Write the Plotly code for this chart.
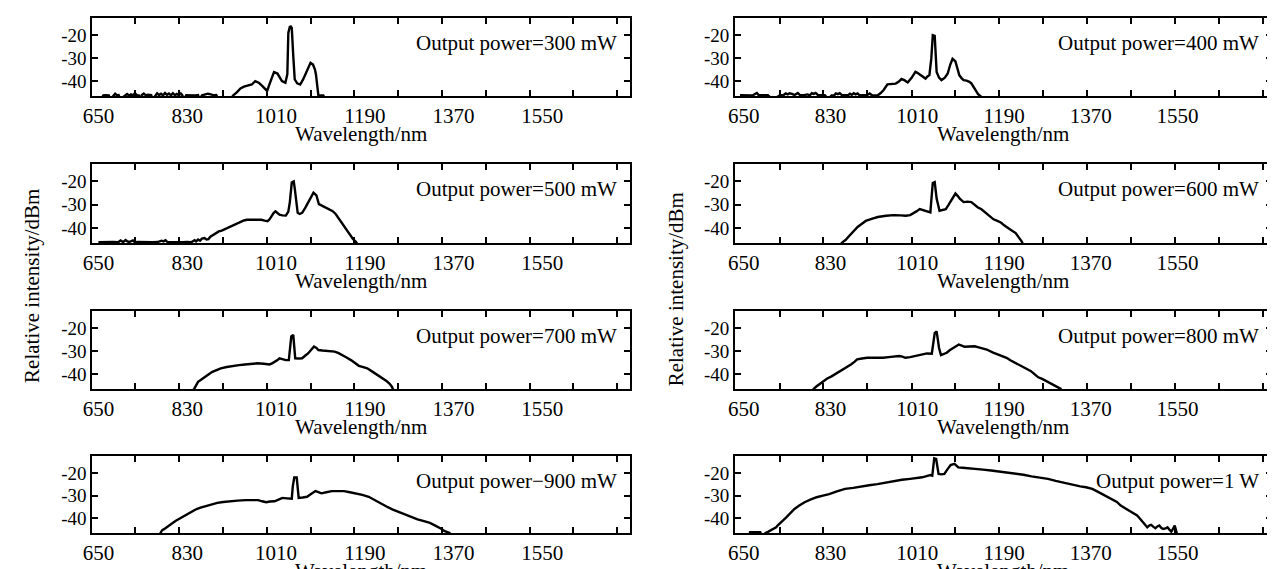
import plotly.graph_objects as go

# ---------------- data (wavelength in nm, relative intensity in dBm) ----------------
wl_300 = [655, 660, 664, 668, 671, 674, 681, 684, 688, 691, 694, 704, 708, 712, 716, 720, 724, 728, 732, 735,
          738, 742, 746, 750, 754, 757, 760, 765, 769, 773, 777, 781, 785, 789, 793, 797, 801, 805, 809, 813,
          817, 820, 823, 828, 834, 840, 846, 852, 855, 860, 866, 872, 878, 884, 889, 893,
          918, 923, 931, 938, 945, 953, 961, 968, 975, 983, 992, 998, 1006, 1013, 1018, 1022, 1029, 1033,
          1035, 1038, 1040, 1042, 1045, 1048, 1053, 1059, 1065, 1072, 1077, 1080, 1085, 1089, 1091, 1094,
          1096, 1106, 1110]
db_300 = [-48, -46.2, -46.1, -46.3, -46.2, -48, -46.3, -45.5, -46.2, -46.1, -48, -46.2, -45.6, -46.3, -45.8,
          -46.2, -45.3, -46.1, -46.2, -48, -46.1, -45.4, -46.2, -45.9, -46.2, -46.1, -48, -46.2, -45.3, -46.1,
          -45.5, -46.2, -45.2, -46.0, -45.4, -46.2, -45.3, -46.1, -45.6, -46.2, -45.4, -46.1, -48, -46.2,
          -46.3, -46.2, -46.3, -46.1, -48, -46.2, -45.7, -45.5, -45.8, -46.2, -46.1, -48,
          -48, -46.3, -44.8, -43.2, -42.4, -41.8, -41.5, -40.0, -40.7, -42.3, -44.3, -40.7, -36.1, -36.7,
          -38.5, -40.0, -40.7, -37.0, -19.0, -16.4, -16.2, -16.8, -29.0, -39.3, -41.0, -41.5, -39.3, -35.7,
          -33.0, -32.0, -32.8, -35.0, -37.1, -45.0, -46.3, -46.3, -48]

wl_400 = [642, 650, 660, 668, 673, 677, 681, 690, 700, 710, 725, 733, 737, 741, 745, 750, 755, 762, 767, 775,
          782, 787, 791, 795, 799, 804, 810, 818, 825, 832, 838, 841, 845, 849, 854, 860, 866, 870, 874, 878,
          882, 886, 890, 898, 905, 911, 916, 922, 928,
          934, 940, 948, 957, 965, 971, 977, 983, 990, 998, 1006, 1010, 1015, 1021, 1027, 1031, 1035, 1039,
          1042, 1046, 1048, 1050, 1055, 1060, 1067, 1073, 1078, 1083, 1089, 1093, 1097, 1102, 1106, 1112,
          1118, 1122, 1126, 1131, 1136, 1142, 1146]
db_400 = [-46.2, -46.3, -46.1, -46.3, -45.6, -45.2, -46.2, -46.3, -46.2, -48, -46.2, -46.0, -45.4, -45.8,
          -45.3, -45.6, -46.1, -45.2, -46.2, -46.1, -45.8, -46.2, -45.3, -45.6, -45.2, -46.1, -46.2, -46.1,
          -48, -46.2, -46.1, -45.4, -45.7, -45.3, -46.2, -46.1, -46.2, -45.5, -46.0, -45.3, -45.8, -45.4,
          -46.2, -46.1, -46.2, -45.4, -46.2, -46.3, -46.2,
          -45.2, -43.9, -41.4, -41.2, -41.1, -40.3, -39.1, -39.6, -40.6, -38.6, -36.0, -36.4, -37.1, -38.2,
          -38.9, -38.0, -37.4, -30.0, -20.0, -20.3, -28.0, -36.0, -38.5, -39.6, -38.5, -36.7, -33.0, -30.3,
          -31.4, -34.0, -37.4, -38.8, -39.6, -39.8, -40.3, -41.0, -42.4, -44.0, -45.7, -46.7, -48]

wl_500 = [650, 660, 670, 680, 690, 695, 700, 705, 709, 712, 720, 724, 730, 740, 750, 760, 770, 778, 782, 786,
          790, 800, 810, 820, 830, 838, 845, 848, 852, 856, 860, 865, 869, 873, 877, 881, 887, 894, 900, 906,
          914, 922, 930, 939, 945, 951, 960, 970, 980, 987, 993, 997, 1001, 1005, 1009, 1013, 1017, 1023,
          1030, 1035, 1038, 1042, 1046, 1048, 1050, 1054, 1058, 1063, 1069, 1075, 1080, 1086, 1092, 1097,
          1104, 1112, 1118, 1125, 1131, 1137, 1145, 1154, 1160, 1166, 1172, 1178]
db_500 = [-46.2, -46.1, -46.2, -46.1, -46.2, -45.4, -46.1, -45.2, -45.8, -46.1, -45.4, -46.2, -46.1, -46.2,
          -46.1, -46.2, -46.1, -45.5, -45.8, -45.3, -46.1, -46.2, -46.1, -46.2, -46.1, -46.2, -45.3, -45.8,
          -45.0, -45.5, -44.6, -44.4, -45.0, -44.8, -43.8, -43.3, -42.5, -41.5, -41.2, -40.6, -40.0, -39.2,
          -38.3, -37.3, -36.8, -36.5, -36.4, -36.5, -36.5, -36.9, -37.1, -36.3, -35.0, -33.6, -32.9, -33.6,
          -34.3, -34.6, -34.7, -33.0, -29.0, -20.5, -20.0, -23.0, -26.0, -33.5, -34.0, -33.5, -31.5, -29.0,
          -27.0, -24.8, -26.0, -29.8, -30.5, -31.3, -31.8, -32.8, -34.0, -35.8, -38.2, -41.0, -43.0, -44.8,
          -46.0, -48]

wl_600 = [850, 853, 857, 861, 868, 874, 880, 886, 895, 903, 915, 928, 945, 961, 975, 986, 995, 1002, 1008,
          1015, 1021, 1027, 1032, 1037, 1039, 1042, 1046, 1048, 1050, 1056, 1062, 1069, 1075, 1081, 1085,
          1089, 1094, 1098, 1106, 1114, 1122, 1128, 1135, 1143, 1151, 1160, 1168, 1176, 1184, 1190, 1197,
          1205, 1214, 1218, 1222, 1227, 1231]
db_600 = [-48, -46.5, -45.8, -45.2, -43.6, -42.2, -40.9, -39.6, -38.2, -37.0, -36.1, -35.3, -34.8, -34.5,
          -34.6, -34.8, -34.5, -33.8, -32.9, -31.9, -32.2, -32.6, -33.0, -33.3, -28.0, -20.7, -20.3, -24.0,
          -27.4, -32.6, -32.4, -31.9, -30.0, -28.1, -26.5, -25.2, -26.3, -27.4, -28.9, -28.7, -28.9, -30.0,
          -31.1, -32.0, -33.3, -34.8, -36.3, -37.0, -37.8, -38.9, -40.0, -41.0, -42.2, -43.3, -44.4, -46.0,
          -48]

wl_700 = [840, 844, 848, 852, 858, 865, 873, 881, 890, 898, 910, 922, 935, 947, 960, 972, 985, 997, 1003, 1009,
          1013, 1017, 1023, 1030, 1036, 1038, 1041, 1045, 1047, 1049, 1056, 1063, 1069, 1075, 1081, 1087, 1092,
          1096, 1104, 1112, 1120, 1129, 1137, 1145, 1153, 1162, 1170, 1178, 1187, 1195, 1203, 1211, 1220, 1228,
          1234, 1240, 1245, 1250]
db_700 = [-48, -46.3, -44.8, -43.4, -42.5, -41.6, -40.2, -39.0, -38.2, -37.5, -36.9, -36.4, -36.1, -35.8,
          -35.5, -35.3, -35.5, -35.8, -35.2, -34.6, -33.9, -33.1, -33.6, -33.9, -33.9, -28.0, -23.6, -22.9,
          -27.0, -33.1, -33.2, -33.1, -32.0, -31.0, -29.5, -28.0, -28.6, -29.5, -29.7, -29.9, -30.0, -30.2,
          -30.9, -31.7, -32.8, -33.9, -35.2, -36.4, -37.0, -37.5, -38.6, -39.7, -40.8, -41.9, -43.0, -44.1,
          -45.5, -48]

wl_800 = [790, 795, 801, 807, 815, 823, 832, 840, 848, 856, 865, 873, 880, 885, 895, 906, 920, 939, 955, 972,
          979, 985, 995, 1005, 1013, 1022, 1030, 1040, 1043, 1046, 1050, 1052, 1055, 1059, 1065, 1071, 1077,
          1084, 1090, 1096, 1102, 1108, 1118, 1129, 1141, 1154, 1166, 1179, 1187, 1195, 1203, 1212, 1220,
          1228, 1236, 1245, 1253, 1261, 1270, 1278, 1286, 1294, 1300, 1307, 1312]
db_800 = [-48, -46.4, -45.3, -44.3, -43.1, -41.9, -41.0, -40.0, -39.0, -37.9, -36.8, -35.7, -34.6, -33.6,
          -33.2, -32.9, -32.9, -32.9, -32.5, -32.1, -32.4, -32.9, -32.6, -32.1, -31.6, -31.1, -31.0, -31.1,
          -26.0, -22.1, -21.4, -25.0, -28.6, -31.7, -31.2, -30.7, -29.6, -28.6, -27.8, -27.1, -27.6, -28.1,
          -28.0, -27.9, -28.6, -29.3, -30.5, -31.7, -32.3, -32.9, -34.0, -35.0, -36.0, -36.9, -37.7, -38.6,
          -40.0, -41.4, -42.2, -43.1, -44.0, -45.0, -45.8, -46.4, -48]

wl_900 = [772, 775, 779, 783, 787, 793, 799, 807, 816, 824, 833, 841, 849, 857, 866, 878, 891, 903, 915, 932,
          949, 961, 974, 982, 990, 998, 1007, 1015, 1023, 1032, 1042, 1044, 1047, 1052, 1054, 1056, 1064, 1073,
          1081, 1090, 1096, 1102, 1112, 1123, 1135, 1148, 1160, 1173, 1185, 1198, 1210, 1222, 1235, 1247, 1260,
          1272, 1285, 1297, 1310, 1322, 1330, 1339, 1345, 1351, 1357, 1362, 1366]
db_900 = [-48, -46.5, -45.3, -44.8, -44.1, -43.2, -42.3, -41.1, -40.0, -38.9, -37.7, -36.8, -35.9, -35.3,
          -34.7, -33.9, -33.2, -32.8, -32.5, -32.2, -32.0, -32.0, -32.0, -32.5, -32.9, -32.6, -32.5, -31.8,
          -31.0, -31.2, -31.4, -26.0, -22.0, -22.0, -26.0, -31.0, -30.8, -30.5, -29.3, -28.0, -28.5, -29.0,
          -28.5, -28.0, -28.0, -28.0, -28.5, -29.0, -29.7, -30.5, -32.0, -33.5, -34.9, -36.2, -37.4, -38.5,
          -39.5, -40.5, -41.3, -42.0, -42.9, -43.8, -44.6, -45.6, -46.0, -46.5, -48]

wl_1000 = [660, 663, 670, 677, 684, 688, 695, 700, 705, 709, 713, 717, 721, 726, 732, 738, 746, 755, 765, 776,
           788, 801, 814, 827, 843, 860, 877, 894, 910, 927, 944, 961, 978, 995, 1007, 1020, 1029, 1037, 1041,
           1043, 1045, 1049, 1051, 1054, 1060, 1066, 1072, 1079, 1087, 1095, 1104, 1112, 1129, 1146, 1163,
           1180, 1197, 1213, 1230, 1247, 1264, 1281, 1297, 1314, 1331, 1348, 1360, 1373, 1384, 1394, 1405,
           1415, 1424, 1432, 1440, 1449, 1457, 1466, 1472, 1479, 1483, 1487, 1491, 1495, 1500, 1504, 1508,
           1512, 1516, 1520, 1525, 1529, 1533, 1537, 1541, 1544, 1546, 1548, 1550]
db_1000 = [-48, -46.2, -46.2, -46.3, -46.2, -48, -46.5, -46.0, -45.5, -45.0, -44.6, -44.0, -43.0, -41.8,
           -40.8, -39.6, -37.9, -35.9, -34.4, -32.9, -31.8, -30.7, -30.0, -29.3, -28.1, -27.0, -26.6, -25.9,
           -25.4, -24.9, -24.2, -23.4, -23.0, -22.6, -22.3, -21.9, -21.4, -20.9, -21.2, -16.0, -13.5, -13.8,
           -17.0, -20.4, -20.6, -20.4, -18.5, -16.5, -16.0, -17.5, -17.7, -17.8, -18.0, -18.5, -18.9, -19.4,
           -19.7, -20.1, -20.8, -21.5, -22.0, -22.6, -23.5, -24.4, -25.1, -25.9, -26.3, -27.0, -28.2, -29.3,
           -30.4, -31.5, -32.8, -34.4, -35.5, -36.6, -37.7, -38.8, -40.2, -41.8, -43.0, -44.0, -43.2, -42.9,
           -43.8, -44.4, -43.6, -43.2, -44.2, -44.7, -44.5, -44.0, -45.0, -45.9, -44.5, -43.2, -44.8, -46.3,
           -48]

panel_labels = ["Output power=300 mW", "Output power=500 mW", "Output power=700 mW", "Output power\u2212900 mW",
                "Output power=400 mW", "Output power=600 mW", "Output power=800 mW", "Output power=1 W"]
panel_data = [(wl_300, db_300), (wl_500, db_500), (wl_700, db_700), (wl_900, db_900),
              (wl_400, db_400), (wl_600, db_600), (wl_800, db_800), (wl_1000, db_1000)]

x_tick_vals = [650, 830, 1010, 1190, 1370, 1550]
x_tick_text = ["650", "830", "1010", "1190", "1370", "1550"]
y_tick_vals = [-20, -30, -40]
y_tick_text = ["-20", "-30", "-40"]
minor_ticks_left = [724, 813, 902, 991, 1080, 1168, 1257, 1346, 1435, 1524, 1612, 1701]
minor_ticks_right = [724, 815, 906, 998, 1089, 1180, 1271, 1362, 1454, 1545, 1636, 1727]

x_title = "Wavelength/nm"
y_title = "Relative intensity/dBm"

# ---------------- layout geometry ----------------
W, H = 1275, 569
FONT = "Liberation Serif, Times New Roman, serif"
col_px = [(75.7, 617.0), (723.0, 1263.5)]
row_px = [(10, 88), (156, 235), (303, 381), (448, 525)]
x_ranges = [[637.3, 1727], [631.4, 1745]]
minor_ticks = [minor_ticks_left, minor_ticks_right]
y_range = [-46.5, -12.5]

fig = go.Figure()
layout = dict(width=W, height=H, margin=dict(l=0, r=0, t=0, b=0),
              paper_bgcolor="white", plot_bgcolor="white", showlegend=False,
              font=dict(family=FONT, color="black"))
annotations = []

for i, ((wl, db), label) in enumerate(zip(panel_data, panel_labels)):
    n = i + 1
    col = i // 4
    row = i % 4
    xa = "x" if n == 1 else f"x{n}"
    ya = "y" if n == 1 else f"y{n}"
    fig.add_trace(go.Scatter(x=wl, y=db, mode="lines", line=dict(color="black", width=2.4),
                             xaxis=xa, yaxis=ya, hoverinfo="skip", showlegend=False))
    x0, x1 = col_px[col]
    y0, y1 = row_px[row]
    layout[f"xaxis{n}"] = dict(
        domain=[x0 / W, x1 / W], anchor=ya, range=x_ranges[col],
        tickmode="array", tickvals=x_tick_vals, ticktext=x_tick_text,
        ticks="inside", ticklen=0, showline=True, linecolor="black", linewidth=1.5,
        mirror="ticks", showgrid=False, zeroline=False,
        tickfont=dict(size=21, color="black", family=FONT),
        minor=dict(tickmode="array", tickvals=minor_ticks[col], ticks="inside", ticklen=6,
                   tickwidth=1.5, tickcolor="black", showgrid=False),
    )
    layout[f"yaxis{n}"] = dict(
        domain=[1 - y1 / H, 1 - y0 / H], anchor=xa, range=y_range,
        tickmode="array", tickvals=y_tick_vals, ticktext=y_tick_text,
        ticks="inside", ticklen=6, tickwidth=1.5, tickcolor="black",
        showline=True, linecolor="black", linewidth=1.5, mirror="ticks",
        showgrid=False, zeroline=False,
        tickfont=dict(size=19, color="black", family=FONT),
    )
    annotations.append(dict(text=label, xref="paper", yref="paper",
                            x=(x1 - 11) / W, y=1 - (y0 + 25) / H, xanchor="right", yanchor="middle",
                            showarrow=False, font=dict(size=21, family=FONT, color="black")))
    annotations.append(dict(text=x_title, xref="paper", yref="paper",
                            x=(x0 + x1) / 2 / W, y=1 - (y1 + 38) / H, xanchor="center", yanchor="middle",
                            showarrow=False, font=dict(size=21, family=FONT, color="black")))

for xc, yc in [(15, 278), (664, 281)]:
    annotations.append(dict(text=y_title, xref="paper", yref="paper", x=xc / W, y=1 - yc / H,
                            xanchor="center", yanchor="middle", textangle=-90, showarrow=False,
                            font=dict(size=21, family=FONT, color="black")))

layout["annotations"] = annotations
fig.update_layout(**layout)
fig.write_html("out.html")
